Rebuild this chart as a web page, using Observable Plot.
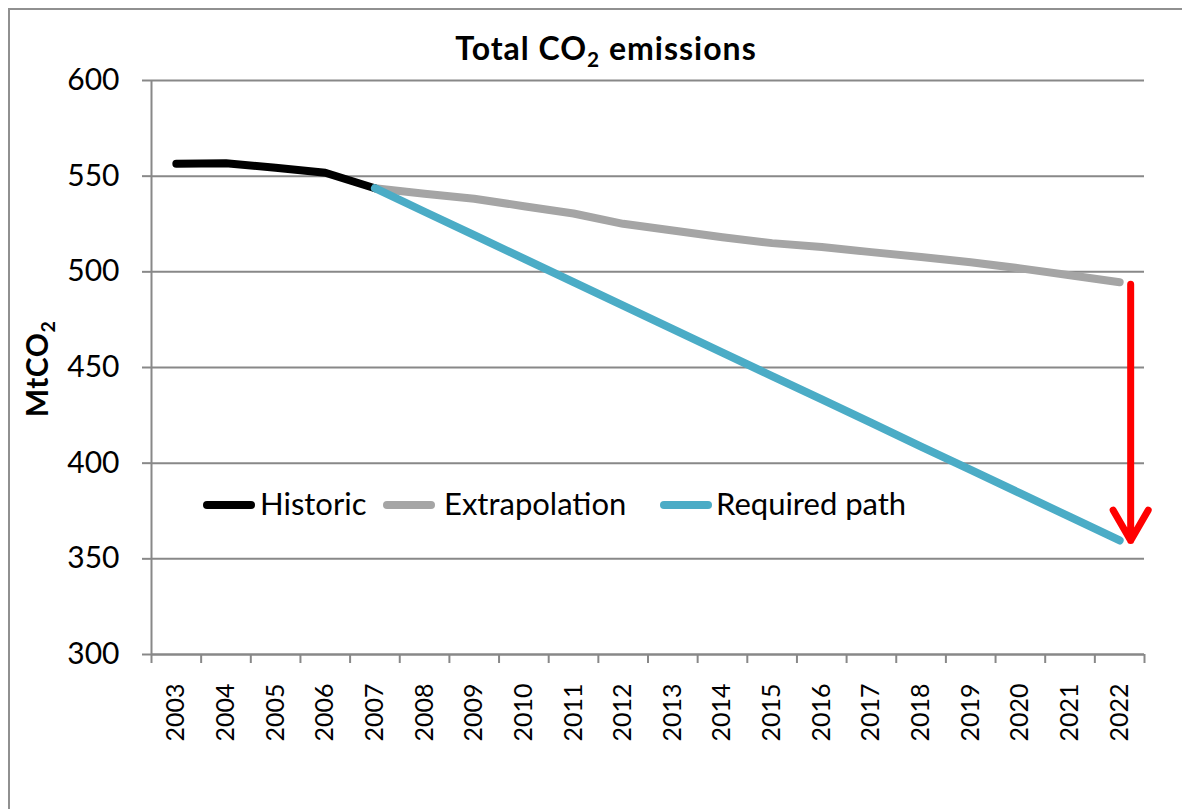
<!DOCTYPE html>
<html>
<head>
<meta charset="utf-8">
<script src="https://cdn.jsdelivr.net/npm/d3@7"></script>
<script src="https://cdn.jsdelivr.net/npm/@observablehq/plot@0.6"></script>
<style>
  body { margin: 0; background: #fff; }
  #chart { position: relative; width: 1182px; height: 809px; overflow: hidden; font-family: Lato, sans-serif; color: #000; }
  #frame { position: absolute; left: 8px; top: 8px; width: 1300px; height: 1000px; border-top: 2px solid #909090; border-left: 2px solid #909090; }
  #plot { position: absolute; left: 0; top: 0; }
  .title { position: absolute; left: 306px; top: 33px; width: 600px; text-align: center; font: bold 32px Lato, sans-serif; letter-spacing: 1px; line-height: 30px; white-space: nowrap; }
  .ylabel { position: absolute; left: 36px; top: 369px; transform: translate(-50%, -50%) rotate(-90deg); font: bold 30px Lato, sans-serif; letter-spacing: 0.5px; line-height: 30px; white-space: nowrap; }
  sub { font-size: 0.65em; vertical-align: -7px; line-height: 0; }
  .sw { position: absolute; width: 52px; height: 8px; border-radius: 4px; top: 501px; }
  .lt { position: absolute; top: 488px; font: 31px Lato, sans-serif; line-height: 30px; white-space: nowrap; }
</style>
</head>
<body>
<div id="chart">
  <div id="frame"></div>
  <div id="plot"></div>
  <div class="title">Total CO<sub>2</sub> emissions</div>
  <div class="ylabel">MtCO<sub>2</sub></div>
  <div id="legend"></div>
</div>
<script>
// Year labels along the bottom axis
const years = [2003, 2004, 2005, 2006, 2007, 2008, 2009, 2010, 2011, 2012,
               2013, 2014, 2015, 2016, 2017, 2018, 2019, 2020, 2021, 2022];

// Recorded emissions, MtCO2
const historicYears = [2003, 2004, 2005, 2006, 2007];
const historic = [556.5, 556.7, 554.4, 551.8, 543.7];

// Trend continued vs. the path needed, MtCO2
const projectionYears = [2007, 2008, 2009, 2010, 2011, 2012, 2013, 2014,
                         2015, 2016, 2017, 2018, 2019, 2020, 2021, 2022];
const extrapolation = [543.7, 540.8, 538.2, 534.3, 530.5, 525.1, 521.6, 518.1,
                       515.0, 513.0, 510.3, 507.8, 505.0, 501.8, 498.2, 494.6];
const requiredPath = [543.7, 531.4, 519.2, 506.9, 494.6, 482.4, 470.1, 457.8,
                      445.5, 433.3, 421.0, 408.7, 396.5, 384.2, 371.9, 359.6];

const yTicks = [300, 350, 400, 450, 500, 550, 600];

// Series names and colours for the legend
const seriesNames = ["Historic", "Extrapolation", "Required path"];
const seriesColors = ["#000000", "#a5a5a5", "#4bacc6"];

const rows = (xs, vs) => xs.map((x, i) => ({x, v: vs[i]}));
const bounds = years.map(y => y - 0.5).concat([years[years.length - 1] + 0.5]);
const gridColor = "#888888";
const lineStyle = {x: "x", y: "v", strokeWidth: 8, strokeLinecap: "round", strokeLinejoin: "round"};

const last = projectionYears.length - 1;
const gap = [{x: projectionYears[last], from: extrapolation[last], to: requiredPath[last]}];

const plot = Plot.plot({
  width: 1182,
  height: 809,
  marginLeft: 151,
  marginRight: 38,
  marginTop: 80,
  marginBottom: 155,
  style: {fontFamily: "Lato, sans-serif", background: "transparent", color: "#000"},
  x: {type: "linear", domain: [bounds[0], bounds[bounds.length - 1]]},
  y: {domain: [300, 600]},
  marks: [
    Plot.gridY(yTicks, {stroke: gridColor, strokeOpacity: 1, strokeWidth: 2}),
    Plot.ruleX([bounds[0]], {stroke: gridColor, strokeWidth: 2}),
    Plot.ruleY([300], {stroke: gridColor, strokeWidth: 2}),
    Plot.axisY(yTicks, {tickSize: 9, tickPadding: 23, fontSize: 30, stroke: gridColor, strokeWidth: 2, fill: "#000", label: null}),
    Plot.axisX(bounds, {tickSize: 9, tickFormat: () => "", stroke: gridColor, strokeWidth: 2, label: null}),
    Plot.axisX(years, {tickSize: 0, tickPadding: 29, tickRotate: -90, fontSize: 25, fill: "#000", tickFormat: d => String(d), label: null}),
    Plot.line(rows(projectionYears, extrapolation), {...lineStyle, stroke: seriesColors[1]}),
    Plot.line(rows(historicYears, historic), {...lineStyle, stroke: seriesColors[0]}),
    Plot.line(rows(projectionYears, requiredPath), {...lineStyle, stroke: seriesColors[2]}),
    Plot.arrow(gap, {
      x1: "x", x2: "x", y1: "from", y2: "to", dx: 11,
      stroke: "#ff0000", strokeWidth: 7, headLength: 7.5, headAngle: 60,
      insetStart: 2, strokeLinecap: "round", strokeLinejoin: "miter"
    })
  ]
});
document.getElementById("plot").appendChild(plot);

// Legend inside the plot area
const legend = document.getElementById("legend");
const swatchLeft = [203, 383, 660];
const textLeft = [260, 444, 716];
seriesNames.forEach((name, i) => {
  const s = document.createElement("div");
  s.className = "sw";
  s.style.left = swatchLeft[i] + "px";
  s.style.background = seriesColors[i];
  legend.appendChild(s);
  const t = document.createElement("div");
  t.className = "lt";
  t.style.left = textLeft[i] + "px";
  t.textContent = name;
  legend.appendChild(t);
});
</script>
</body>
</html>
